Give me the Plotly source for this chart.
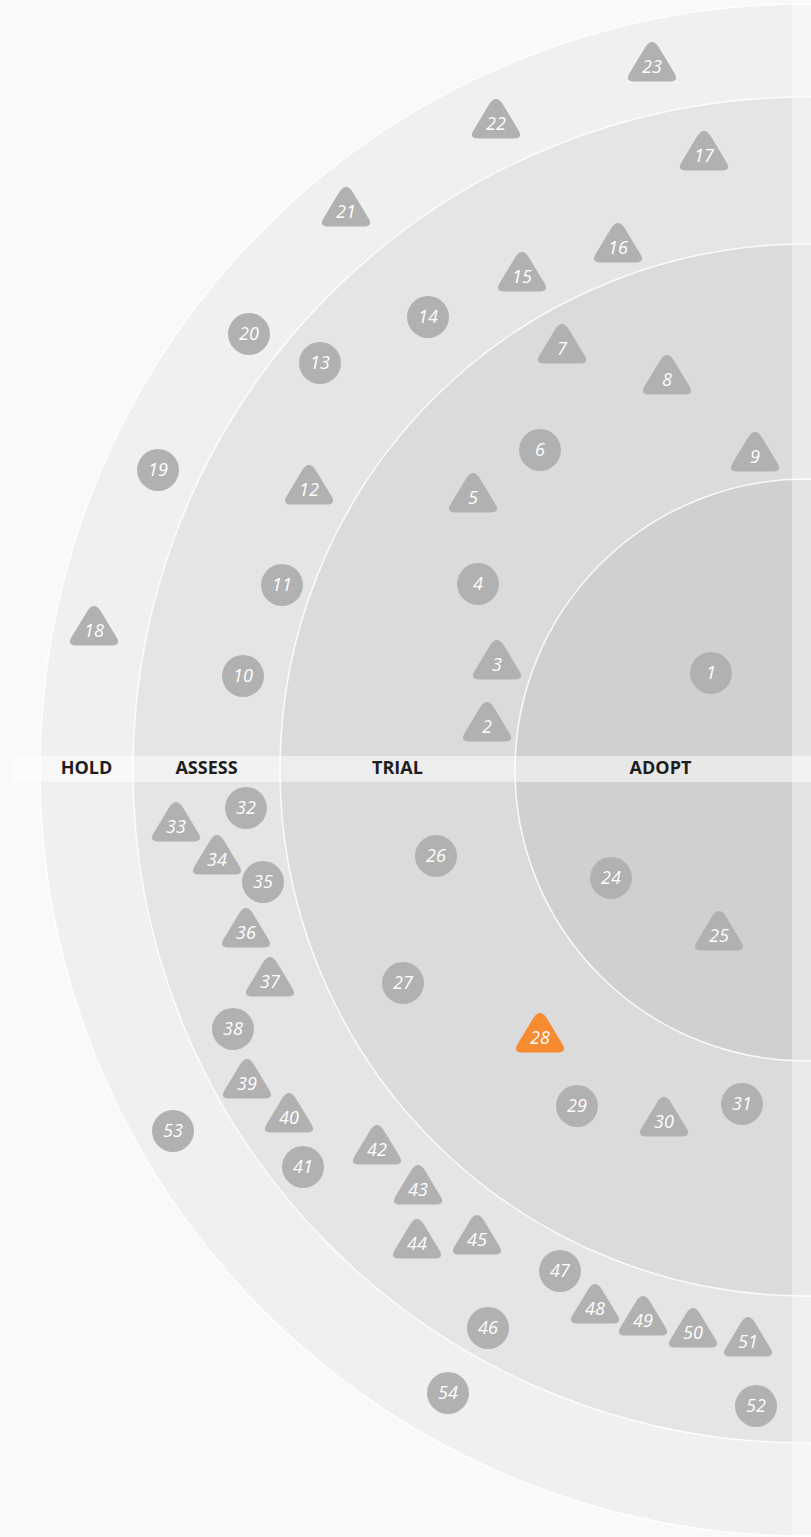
import plotly.graph_objects as go

# ---------------- data ----------------
RING_NAMES = ["ADOPT", "TRIAL", "ASSESS", "HOLD"]
RING_RADII = [291, 526, 673, 766]

BLIP_IDS = list(range(1, 55))
BLIP_X = [-95, -319, -309, -328, -333, -266, -244, -139, -51, -563,
          -524, -497, -486, -378, -284, -188, -102, -712, -648, -557,
          -460, -310, -154, -195, -87, -370, -403, -266, -229, -142,
          -64, -560, -630, -589, -543, -560, -536, -573, -559, -517,
          -503, -429, -388, -389, -329, -318, -246, -211, -163, -113,
          -58, -50, -633, -358]
BLIP_Y = [97, 43, 105, 186, 272, 320, 421, 390, 313, 94,
          185, 280, 407, 453, 493, 522, 614, 139, 300, 436,
          558, 646, 703, -108, -166, -86, -213, -268, -336, -352,
          -334, -38, -57, -90, -112, -163, -212, -259, -314, -348,
          -397, -380, -420, -474, -470, -558, -501, -539, -551, -563,
          -572, -636, -361, -623]
BLIP_SHAPE = ["c", "t", "t", "c", "t", "c", "t", "t", "t", "c",
              "c", "t", "c", "c", "t", "t", "t", "t", "c", "c",
              "t", "t", "t", "c", "t", "c", "c", "t", "c", "t",
              "c", "c", "t", "t", "c", "t", "t", "c", "t", "t",
              "c", "t", "t", "t", "t", "c", "c", "t", "t", "t",
              "t", "c", "c", "c"]
HIGHLIGHTED = [28]

# ---------------- styles ----------------
BG = "#f8f9fb"
RING_FILL = {"ADOPT": "#d0d0d0", "TRIAL": "#dbdbdb", "ASSESS": "#e5e5e5", "HOLD": "#f0f0f1"}
BLIP_GREY = "#b1b1b1"
BLIP_ORANGE = "#f68b2f"
FONT = "Open Sans"

X_RANGE = [-806, 5]
Y_RANGE = [-767, 770]

fig = go.Figure()
shapes = []

# rings, outermost first
for name, r in sorted(zip(RING_NAMES, RING_RADII), key=lambda t: -t[1]):
    shapes.append(dict(type="circle", xref="x", yref="y", x0=-r, x1=r, y0=-r, y1=r,
                       fillcolor=RING_FILL[name],
                       line=dict(color="rgba(255,255,255,0.85)", width=1.5),
                       layer="below"))

# label band and right strip overlays
shapes.append(dict(type="rect", xref="x", yref="y", x0=X_RANGE[0] + 12, x1=X_RANGE[1],
                   y0=-12, y1=14, fillcolor="rgba(255,255,255,0.5)", line=dict(width=0),
                   layer="below"))
shapes.append(dict(type="rect", xref="x", yref="y", x0=-14, x1=X_RANGE[1],
                   y0=Y_RANGE[0], y1=Y_RANGE[1], fillcolor="rgba(255,255,255,0.42)",
                   line=dict(width=0), layer="below"))


def rounded_triangle(cx, cy, top=31.0, bottom=14.5, half=27.5, r_apex=14.0, r_base=10.0):
    A = (cx, cy + top)
    B = (cx + half, cy - bottom)
    C = (cx - half, cy - bottom)
    pts = [A, B, C]
    rads = [r_apex, r_base, r_base]

    def towards(p, q, d):
        dx, dy = q[0] - p[0], q[1] - p[1]
        L = (dx * dx + dy * dy) ** 0.5
        return (p[0] + dx / L * d, p[1] + dy / L * d)

    path = ""
    for i in range(3):
        V = pts[i]
        P = pts[i - 1]
        N = pts[(i + 1) % 3]
        a = towards(V, P, rads[i])
        b = towards(V, N, rads[i])
        path += ("M" if i == 0 else "L") + f"{a[0]:.2f},{a[1]:.2f} "
        path += f"Q{V[0]:.2f},{V[1]:.2f} {b[0]:.2f},{b[1]:.2f} "
    path += "Z"
    return path


circ_x, circ_y, circ_c = [], [], []
for bid, x, y, s in zip(BLIP_IDS, BLIP_X, BLIP_Y, BLIP_SHAPE):
    col = BLIP_ORANGE if bid in HIGHLIGHTED else BLIP_GREY
    if s == "t":
        shapes.append(dict(type="path", xref="x", yref="y", path=rounded_triangle(x, y),
                           fillcolor=col, line=dict(width=0), layer="below"))
    else:
        circ_x.append(x)
        circ_y.append(y)
        circ_c.append(col)

fig.add_trace(go.Scatter(x=circ_x, y=circ_y, mode="markers",
                         marker=dict(size=42, color=circ_c, line=dict(width=0)),
                         hoverinfo="skip"))

fig.add_trace(go.Scatter(x=BLIP_X, y=[v - 1.5 for v in BLIP_Y], mode="text",
                         text=[str(b) for b in BLIP_IDS],
                         textposition="middle center",
                         textfont=dict(family=FONT, size=18, color="white", style="italic"),
                         hoverinfo="skip"))

# ring labels centred in each ring band
inner = [0] + RING_RADII[:-1]
label_x = [-(a + b) / 2 for a, b in zip(inner, RING_RADII)]
fig.add_trace(go.Scatter(x=label_x, y=[1] * len(RING_NAMES), mode="text",
                         text=RING_NAMES, textposition="middle center",
                         textfont=dict(family=FONT, size=18, color="#1e1e1e", weight=700),
                         hoverinfo="skip"))

fig.update_layout(
    width=811, height=1537,
    margin=dict(l=0, r=0, t=0, b=0),
    paper_bgcolor=BG, plot_bgcolor=BG,
    showlegend=False,
    shapes=shapes,
    xaxis=dict(range=X_RANGE, visible=False, fixedrange=True),
    yaxis=dict(range=Y_RANGE, visible=False, fixedrange=True),
)

fig.write_html("out.html", config={"displayModeBar": False},
               post_script="document.body.style.margin='0';document.body.style.background='" + BG + "';")
